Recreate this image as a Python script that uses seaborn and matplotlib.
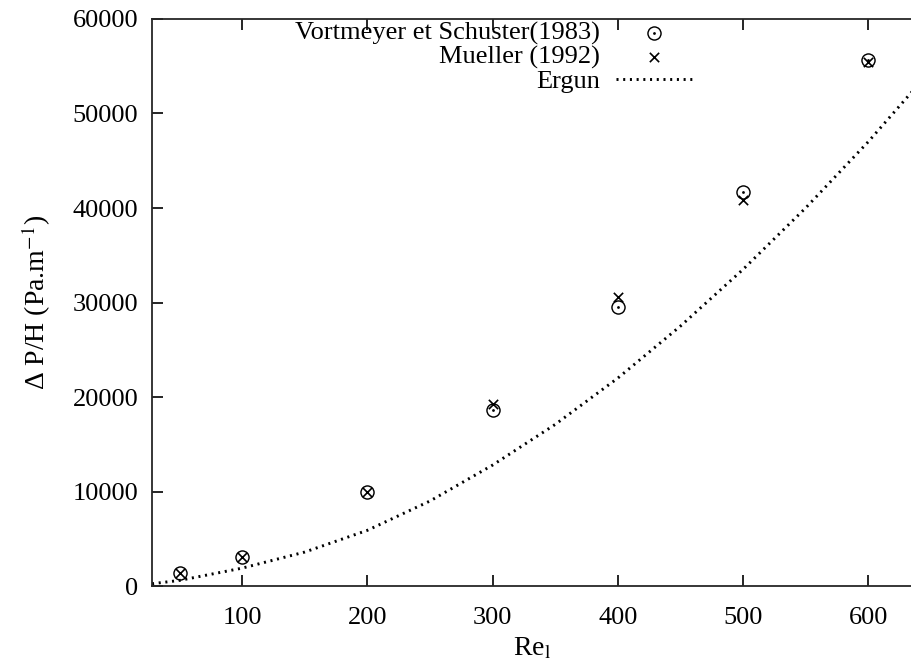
"""Pressure drop per unit height vs Reynolds number: measurements and Ergun law."""

import matplotlib

matplotlib.use("Agg")

import matplotlib.pyplot as plt
import pandas as pd
import seaborn as sns

# measured points
RE_POINTS = [50, 100, 200, 300, 400, 500, 600]
VORTMEYER = [1400, 3100, 10000, 18600, 29500, 41700, 55700]
MUELLER = [1400, 3100, 10000, 19300, 30600, 40900, 55400]

# Ergun curve
RE_ERGUN = [28, 50, 100, 150, 200, 250, 300, 350, 400, 450, 500, 550, 600, 635]
ERGUN = [250, 600, 1900, 3600, 5900, 9000, 12800, 17100, 22000, 27500, 33500, 40000, 47000, 52300]

X_TICKS = [100, 200, 300, 400, 500, 600]
Y_TICKS = [0, 10000, 20000, 30000, 40000, 50000, 60000]


def configure_style() -> None:
    sns.set_theme(style="ticks")
    plt.rcParams.update(
        {
            "font.family": ["Liberation Serif", "DejaVu Serif"],
            "mathtext.fontset": "stix",
            "font.size": 19,
            "axes.linewidth": 1.3,
            "xtick.direction": "in",
            "ytick.direction": "in",
            "xtick.major.size": 8,
            "ytick.major.size": 8,
            "xtick.major.width": 1.2,
            "ytick.major.width": 1.2,
            "xtick.top": True,
            "xtick.labelsize": 19,
            "ytick.labelsize": 19,
            "text.color": "black",
            "axes.labelcolor": "black",
        }
    )


def main() -> None:
    configure_style()
    points = pd.DataFrame({"re": RE_POINTS, "vortmeyer": VORTMEYER, "mueller": MUELLER})
    ergun = pd.DataFrame({"re": RE_ERGUN, "dp": ERGUN})

    fig = plt.figure(figsize=(9.12, 6.66), dpi=100)
    ax = fig.add_axes([0.1667, 0.120, 0.8333, 0.8515])

    sns.scatterplot(
        data=points, x="re", y="vortmeyer", ax=ax, marker=r"$\odot$", s=110,
        color="black", linewidth=0, label="Vortmeyer et Schuster(1983)",
    )
    sns.scatterplot(
        data=points, x="re", y="mueller", ax=ax, marker="x", s=45,
        color="black", linewidth=1.2, label="Mueller (1992)",
    )
    sns.lineplot(
        data=ergun, x="re", y="dp", ax=ax, color="black", linewidth=2.1,
        linestyle=(0, (0.7, 1.6)), label="Ergun",
    )

    ax.set_xlim(28, 635)
    ax.set_ylim(0, 60000)
    ax.set_xticks(X_TICKS)
    ax.set_yticks(Y_TICKS)
    ax.spines["right"].set_visible(False)
    ax.tick_params(axis="y", colors="black", pad=10)
    ax.tick_params(axis="x", colors="black", pad=15)

    ax.set_xlabel(r"Re$_{\rm l}$", fontsize=20, labelpad=5)
    ax.set_ylabel(r"Δ P/H (Pa.m$^{-1}$)", fontsize=20, labelpad=14)

    ax.legend(
        loc="upper right", bbox_to_anchor=(0.725, 1.014), frameon=False, markerfirst=False,
        fontsize=19, handlelength=2.9, handletextpad=0.6, labelspacing=0.0,
        borderaxespad=0.0,
    )

    fig.savefig("out.png", dpi=100, facecolor="white")
    plt.close(fig)


if __name__ == "__main__":
    main()
